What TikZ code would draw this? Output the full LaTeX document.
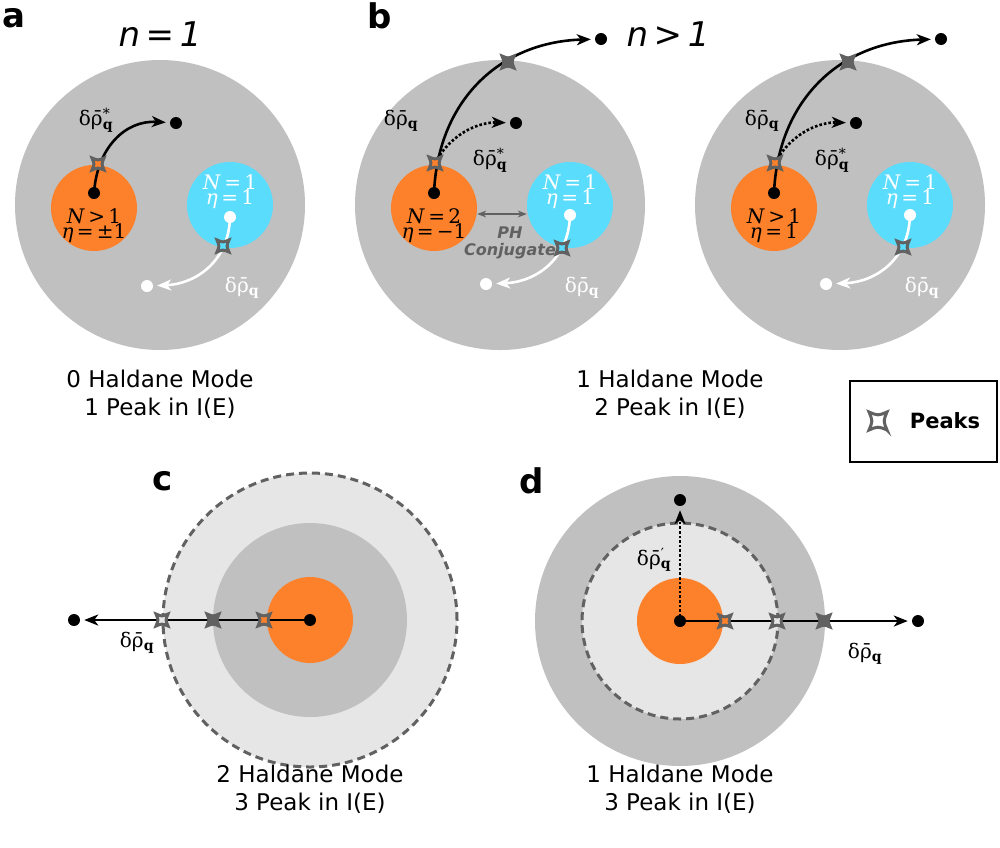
\documentclass[tikz,border=0pt]{standalone}
\usepackage{fontspec}
\setmainfont{DejaVu Sans}
\newfontfamily\serf{DejaVu Serif}
\usetikzlibrary{arrows.meta}
\definecolor{bg}{HTML}{C0C0C0}
\definecolor{lbg}{HTML}{E6E6E6}
\definecolor{org}{HTML}{FD812B}
\definecolor{cyn}{HTML}{5ADCFC}
\definecolor{dk}{HTML}{616161}
\newcommand\rhoq{δρ̄\textsubscript{\bfseries q}}
\newcommand\rhoqs{δρ̄\rlap{\textsuperscript{*}}\textsubscript{\bfseries q}}
\newcommand\rhoqp{δρ̄\rlap{\textsuperscript{′}}\textsubscript{\bfseries q}}
\tikzset{
  big/.style={circle,fill=bg,minimum size=290pt,inner sep=0pt},
  orng/.style={circle,fill=org,minimum size=86pt,inner sep=0pt},
  blu/.style={circle,fill=cyn,minimum size=86pt,inner sep=0pt},
  dot/.style={circle,fill=black,minimum size=12pt,inner sep=0pt},
  wdot/.style={circle,fill=white,minimum size=12pt,inner sep=0pt},
  arr/.style={line width=2.6pt,-{Stealth[length=14pt,width=11pt,inset=4pt]},shorten >=4pt},
  darr/.style={arr,dotted},
  lab/.style={font=\fontsize{34}{36}\selectfont\bfseries},
  captxt/.style={font=\fontsize{23}{28}\selectfont,align=center},
  ml/.style={inner sep=1pt,font=\serf\fontsize{20}{22}\selectfont},
  peak/.pic={\draw[dk,line width=3pt,fill=#1] (6,6) .. controls (0,3.5) .. (-6,6) .. controls (-3.5,0) .. (-6,-6) .. controls (0,-3.5) .. (6,-6) .. controls (3.5,0) .. cycle;},
  peak/.default=bg
}
\begin{document}
\begin{tikzpicture}[x=1pt,y=-1pt]
\useasboundingbox (0,0) rectangle (1000,847);
% ---------- panel a
\node[lab] (la) at (14,18) {a};
\node[font=\fontsize{34}{36}\selectfont\itshape] (na) at (160,34) {n\,=\,1};
\node[big] (Ba) at (160,205) {};
\node[orng] (Oa) at (94,208) {};
\node[blu] (Ca) at (230,205) {};
\node[ml] (ta1) at (94,216) {\textit{N}\,>\,1};
\node[ml] (ta2) at (94,233) {\textit{η}\,=\,±1};
\node[ml,white] (ta3) at (230,182) {\textit{N}\,=\,1};
\node[ml,white] (ta4) at (230,199) {\textit{η}\,=\,1};
\node[dot] (da0) at (94,193) {};
\node[dot] (da1) at (176,123) {};
\node[wdot] (wa0) at (230,217) {};
\node[wdot] (wa1) at (147,286) {};
\draw[arr] (da0.center) .. controls (97,148) and (125,120) .. (da1);
\draw[arr,white] (wa0.center) .. controls (229,262) and (195,284) .. (wa1);
\pic at (98,164) {peak=org};
\pic at (223,246) {peak=cyn};
\node[ml] (ra1) at (96,120) {\rhoqs};
\node[ml,white] (ra2) at (242,288) {\rhoq};
\node[captxt] (ca) at (160,394) {0 Haldane Mode\\1 Peak in I(E)};
% ---------- panel b
\node[lab] (lb) at (380,16) {b};
\node[font=\fontsize{34}{36}\selectfont\itshape] (nb) at (668,34) {n\,>\,1};
\node[big] (Bb) at (500,205) {};
\node[big] (Bc) at (840,205) {};
\node[orng] (Ob) at (434,208) {};
\node[blu] (Cb) at (570,205) {};
\node[orng] (Oc) at (774,208) {};
\node[blu] (Cc) at (910,205) {};
\node[ml] (tb1) at (434,216) {\textit{N}\,=\,2};
\node[ml] (tb2) at (434,233) {\textit{η}\,=\,−1};
\node[ml,white] (tb3) at (570,182) {\textit{N}\,=\,1};
\node[ml,white] (tb4) at (570,199) {\textit{η}\,=\,1};
\node[ml] (tc1) at (774,216) {\textit{N}\,>\,1};
\node[ml] (tc2) at (774,233) {\textit{η}\,=\,1};
\node[ml,white] (tc3) at (910,182) {\textit{N}\,=\,1};
\node[ml,white] (tc4) at (910,199) {\textit{η}\,=\,1};
\draw[dk,line width=2.5pt,{Stealth[length=9pt]}-{Stealth[length=9pt]}] (Ob.east |- 0,214) -- (Cb.west |- 0,214);
\node[dk,font=\fontsize{16}{17}\selectfont\bfseries\itshape,align=center] (ph) at (510,243) {PH\\Conjugate};
% b left
\node[dot] (db0) at (434,193) {};
\node[dot] (db1) at (601,39) {};
\node[dot] (db2) at (516,123) {};
\coordinate (sb) at (435,163);
\draw[arr] (db0.center) .. controls (438,100) and (500,42) .. (db1);
\draw[darr] (sb) .. controls (452,132) and (480,122) .. (db2);
\node[wdot] (wb0) at (570,215) {};
\node[wdot] (wb1) at (486,284) {};
\draw[arr,white] (wb0.center) .. controls (569,260) and (535,282) .. (wb1);
\pic at (sb) {peak=org};
\pic at (508,62) {peak};
\pic at (562,248) {peak=cyn};
\node[ml] (rb1) at (401,121) {\rhoq};
\node[ml] (rb2) at (490,160) {\rhoqs};
\node[ml,white] (rb3) at (582,288) {\rhoq};
% b right
\node[dot] (dc0) at (774,193) {};
\node[dot] (dc1) at (941,39) {};
\node[dot] (dc2) at (856,123) {};
\coordinate (sc) at (775,163);
\draw[arr] (dc0.center) .. controls (778,100) and (840,42) .. (dc1);
\draw[darr] (sc) .. controls (792,132) and (820,122) .. (dc2);
\node[wdot] (wc0) at (910,215) {};
\node[wdot] (wc1) at (826,284) {};
\draw[arr,white] (wc0.center) .. controls (909,260) and (875,282) .. (wc1);
\pic at (sc) {peak=org};
\pic at (848,62) {peak};
\pic at (903,247) {peak=cyn};
\node[ml] (rc1) at (762,121) {\rhoq};
\node[ml] (rc2) at (832,160) {\rhoqs};
\node[ml,white] (rc3) at (922,288) {\rhoq};
\node[captxt] (cb) at (670,394) {1 Haldane Mode\\2 Peak in I(E)};
% legend
\node[draw,line width=1.8pt,minimum width=147pt,minimum height=81pt] (leg) at (923.5,421.5) {};
\pic[scale=1.5] at (878,421) {peak=white};
\node[font=\fontsize{21}{23}\selectfont\bfseries] (legt) at (945,421) {Peaks};
% ---------- panel c
\node[lab] (lc) at (163,481) {c};
\node[circle,fill=lbg,draw=dk,dash pattern=on 8pt off 5pt,line width=3pt,minimum size=294pt,inner sep=0pt] (Cd) at (310,620) {};
\node[circle,fill=bg,minimum size=194pt,inner sep=0pt] (Cm) at (310,620) {};
\node[orng] (Cor) at (310,620) {};
\node[dot] (dd0) at (310,620) {};
\node[dot] (dd1) at (74,620) {};
\draw[arr] (dd0.center) -- (dd1);
\pic at (264,620) {peak=org};
\pic at (213,620) {peak};
\pic at (162,620) {peak=lbg};
\node[ml] (rd1) at (137,643) {\rhoq};
\node[captxt] (cc) at (310,789) {2 Haldane Mode\\3 Peak in I(E)};
% ---------- panel d
\node[lab] (ld) at (532,481) {d};
\node[circle,fill=bg,minimum size=290pt,inner sep=0pt] (De) at (680,621) {};
\node[circle,fill=lbg,draw=dk,dash pattern=on 8pt off 5pt,line width=3pt,minimum size=196pt,inner sep=0pt] (Dd) at (680,621) {};
\node[orng] (Dor) at (680,621) {};
\node[dot] (de0) at (680,621) {};
\node[dot] (de1) at (918,621) {};
\node[dot] (de2) at (680,500) {};
\draw[darr] (de0.center) -- (de2);
\draw[arr] (de0.center) -- (de1);
\pic at (725,621) {peak=org};
\pic at (777,621) {peak=lbg};
\pic at (824,621) {peak};
\node[ml] (re1) at (654,560) {\rhoqp};
\node[ml] (re2) at (865,654) {\rhoq};
\node[captxt] (cd) at (680,789) {1 Haldane Mode\\3 Peak in I(E)};
\end{tikzpicture}
\end{document}
